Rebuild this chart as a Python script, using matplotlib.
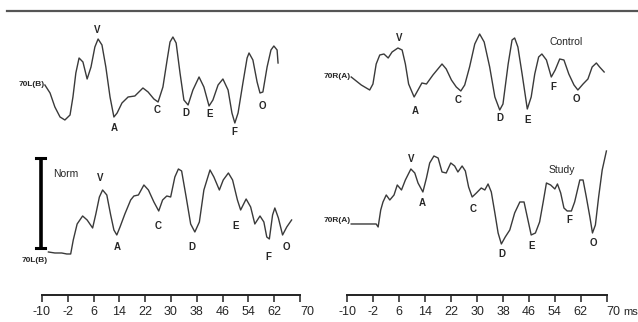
import matplotlib.pyplot as plt
from matplotlib.lines import Line2D

plt.rcParams['font.family'] = ['Liberation Sans', 'DejaVu Sans']

# time axis, ms
ticks = [-10, -2, 6, 14, 22, 30, 38, 46, 54, 62, 70]

# 70L(B), control (top left)
tl_ms = [-9.1, -7.5, -6.0, -4.4, -2.9, -1.3, -0.4, 0.5, 1.5, 2.7, 4.0, 5.2, 6.4, 7.4, 8.6, 9.8,
         11.1, 12.3, 13.3, 14.8, 16.7, 18.8, 21.3, 22.9, 24.7, 26.0, 27.5, 28.8, 29.7, 30.6,
         31.6, 32.8, 34.0, 35.3, 36.8, 38.7, 40.2, 41.8, 43.0, 44.6, 46.1, 47.7, 48.9, 49.8,
         50.8, 52.3, 53.6, 54.2, 55.4, 56.7, 57.6, 58.5, 59.8, 61.0, 61.9, 62.9, 63.2]
tl_amp = [0, -8, -22, -32, -35, -30, -12, 12, 27, 23, 6, 18, 38, 46, 40, 18,
          -12, -32, -28, -18, -12, -11, -3, -7, -14, -17, -2, 25, 43, 48,
          42, 12, -15, -20, -5, 8, -2, -21, -15, 0, 6, -5, -28, -38,
          -28, 2, 27, 32, 25, 3, -8, -7, 18, 35, 39, 35, 22]
tl_base = 210

# 70R(A), control (top right)
tr_ms = [-8.8, -5.7, -3.1, -2.1, -1.1, 0.0, 1.3, 2.6, 3.8, 5.6, 6.9, 7.9, 8.9, 10.6, 11.8, 13.0,
         14.4, 16.4, 19.2, 20.5, 22.1, 23.6, 25.0, 26.2, 27.7, 29.3, 30.8, 32.2, 33.9, 35.5,
         37.0, 38.0, 39.6, 40.8, 41.6, 42.6, 43.9, 45.5, 46.7, 47.8, 49.0, 50.0, 51.4, 52.9,
         54.1, 55.5, 56.8, 58.3, 59.9, 61.1, 62.7, 64.2, 65.5, 66.8, 67.8, 69.2]
tr_amp = [0, -8, -13, -7, 13, 22, 23, 19, 25, 29, 27, 13, -7, -20, -13, -6,
          -7, 2, 13, 8, -3, -10, -14, -8, 10, 33, 43, 35, 10, -20,
          -33, -27, 13, 37, 39, 30, 3, -32, -20, 3, 20, 23, 17, 0,
          7, 18, 17, 3, -8, -13, -7, -2, 10, 14, 10, 5]
tr_base = 218

# 70L(B), norm (bottom left)
bl_ms = [-8.0, -6.0, -3.9, -2.3, -1.1, -0.3, 0.9, 2.6, 4.0, 5.7, 6.7, 7.8, 8.8, 10.1, 11.3, 12.3,
         13.2, 14.2, 15.7, 17.5, 18.5, 19.9, 21.6, 23.0, 24.7, 26.2, 27.4, 28.7, 29.9, 31.2,
         32.3, 33.3, 34.7, 36.1, 37.4, 38.8, 40.2, 42.1, 43.3, 45.0, 46.2, 47.8, 49.1, 50.6,
         51.6, 53.3, 54.7, 56.0, 57.6, 58.8, 59.7, 60.5, 61.5, 62.2, 63.3, 64.6, 65.9, 67.4]
bl_amp = [0, -1, -1, -2, -2, 12, 28, 36, 32, 24, 38, 55, 62, 57, 37, 22,
          17, 25, 38, 52, 56, 57, 67, 62, 50, 41, 52, 56, 55, 75,
          83, 81, 55, 28, 20, 30, 62, 82, 75, 62, 72, 79, 72, 52,
          42, 53, 45, 28, 36, 30, 15, 13, 37, 44, 34, 17, 25, 32]
bl_base = 43

# 70R(A), study (bottom right)
br_ms = [-8.8, -4.6, -1.1, -0.5, 0.3, 1.0, 2.0, 3.1, 4.4, 5.4, 6.7, 7.9, 9.6, 10.8, 11.8, 13.3,
         14.4, 15.4, 16.7, 18.0, 19.2, 20.5, 21.9, 23.1, 24.1, 25.4, 26.4, 27.4, 28.5, 29.8,
         31.3, 32.4, 33.4, 34.4, 35.5, 36.5, 37.5, 38.7, 40.1, 41.6, 43.2, 44.5, 45.5, 46.7,
         48.0, 49.3, 50.4, 51.4, 52.7, 54.0, 54.8, 55.8, 56.8, 57.8, 59.1, 60.1, 61.7, 62.7,
         63.7, 64.8, 65.6, 66.5, 67.5, 68.6, 69.9]
br_amp = [0, 0, 0, -3, 14, 22, 29, 24, 29, 39, 34, 44, 55, 51, 41, 32,
          46, 61, 68, 66, 52, 51, 61, 58, 52, 58, 53, 37, 27, 31,
          36, 34, 40, 32, 11, -9, -20, -13, -6, 11, 22, 22, 7, -11,
          -9, 2, 22, 41, 39, 35, 40, 31, 16, 13, 13, 22, 44, 44,
          27, 7, -9, -1, 27, 54, 73]
br_base = 71

# peak labels: letter, ms, level
tl_peaks = [('V', 7.1, 265), ('A', 12.3, 167), ('C', 25.7, 185), ('D', 34.7, 182),
            ('E', 42.1, 181), ('F', 49.5, 163), ('O', 58.2, 189)]
tr_peaks = [('V', 5.9, 257), ('A', 10.8, 184), ('C', 24.1, 195), ('D', 37.0, 177),
            ('E', 45.7, 175), ('F', 53.4, 208), ('O', 60.6, 196)]
bl_peaks = [('V', 8.0, 117), ('A', 13.2, 48), ('C', 26.1, 69), ('D', 36.6, 48),
            ('E', 50.1, 69), ('F', 60.2, 38), ('O', 65.7, 48)]
br_peaks = [('V', 9.7, 136), ('A', 13.1, 92), ('C', 28.8, 86), ('D', 37.7, 41),
            ('E', 46.7, 49), ('F', 58.6, 75), ('O', 65.8, 52)]

line_c = '#3a3a3a'
text_c = '#262626'

fig = plt.figure(figsize=(6.38, 3.22), dpi=100)
fig.patch.set_facecolor('white')

# top rule
fig.add_artist(Line2D([0.011, 1.0], [0.966, 0.966], color='#555555', lw=1.6))

ax_l = fig.add_axes([0.0658, 0.0839, 0.4044, 0.854])
ax_r = fig.add_axes([0.5444, 0.0839, 0.4066, 0.854])


def draw_trace(ax, ms, amp, base, name, name_y, peaks):
    ax.plot(ms, [a + base for a in amp], color=line_c, lw=1.0, clip_on=False)
    ax.text(ms[0] - 0.2, name_y, name, ha='right', va='center', fontsize=6,
            fontweight='bold', color=text_c, clip_on=False)
    for letter, x, y in peaks:
        ax.text(x, y, letter, ha='center', va='center', fontsize=7,
                fontweight='bold', color=text_c)


draw_trace(ax_l, tl_ms, tl_amp, tl_base, '70L(B)', 210, tl_peaks)
draw_trace(ax_r, tr_ms, tr_amp, tr_base, '70R(A)', 218, tr_peaks)
draw_trace(ax_l, bl_ms, bl_amp, bl_base, '70L(B)', 34, bl_peaks)
draw_trace(ax_r, br_ms, br_amp, br_base, '70R(A)', 74, br_peaks)

# amplitude bar "Norm"
ax_l.plot([-10.4, -10.4], [47, 137], color='black', lw=2.6, clip_on=False,
          solid_capstyle='butt')
for y in (47, 137):
    ax_l.plot([-11.7, -9.1], [y, y], color='black', lw=2.2, clip_on=False)
ax_l.text(-6.6, 121, 'Norm', ha='left', va='center', fontsize=7.5, color=text_c)
ax_r.text(52.4, 253, 'Control', ha='left', va='center', fontsize=7.5, color=text_c)
ax_r.text(52.0, 125, 'Study', ha='left', va='center', fontsize=7.5, color=text_c)

for ax in (ax_l, ax_r):
    ax.set_xlim(-10, 70)
    ax.set_ylim(0, 275)
    for s in ('top', 'left', 'right'):
        ax.spines[s].set_visible(False)
    ax.spines['bottom'].set_linewidth(1.4)
    ax.spines['bottom'].set_color('#222222')
    ax.set_yticks([])
    ax.set_xticks(ticks)
    ax.set_xticklabels([str(t) for t in ticks], fontsize=9, color=text_c)
    ax.get_xticklabels()[-1].set_ha('left')
    ax.tick_params(axis='x', direction='out', length=5, width=1.1, pad=3,
                   color='#222222')
    ax.patch.set_alpha(0)

# unit after the right time axis
ax_r.text(75.2, -0.063, 'ms', transform=ax_r.get_xaxis_transform(), ha='left',
          va='center', fontsize=8, color=text_c, clip_on=False)

fig.savefig('out.png', dpi=100)
